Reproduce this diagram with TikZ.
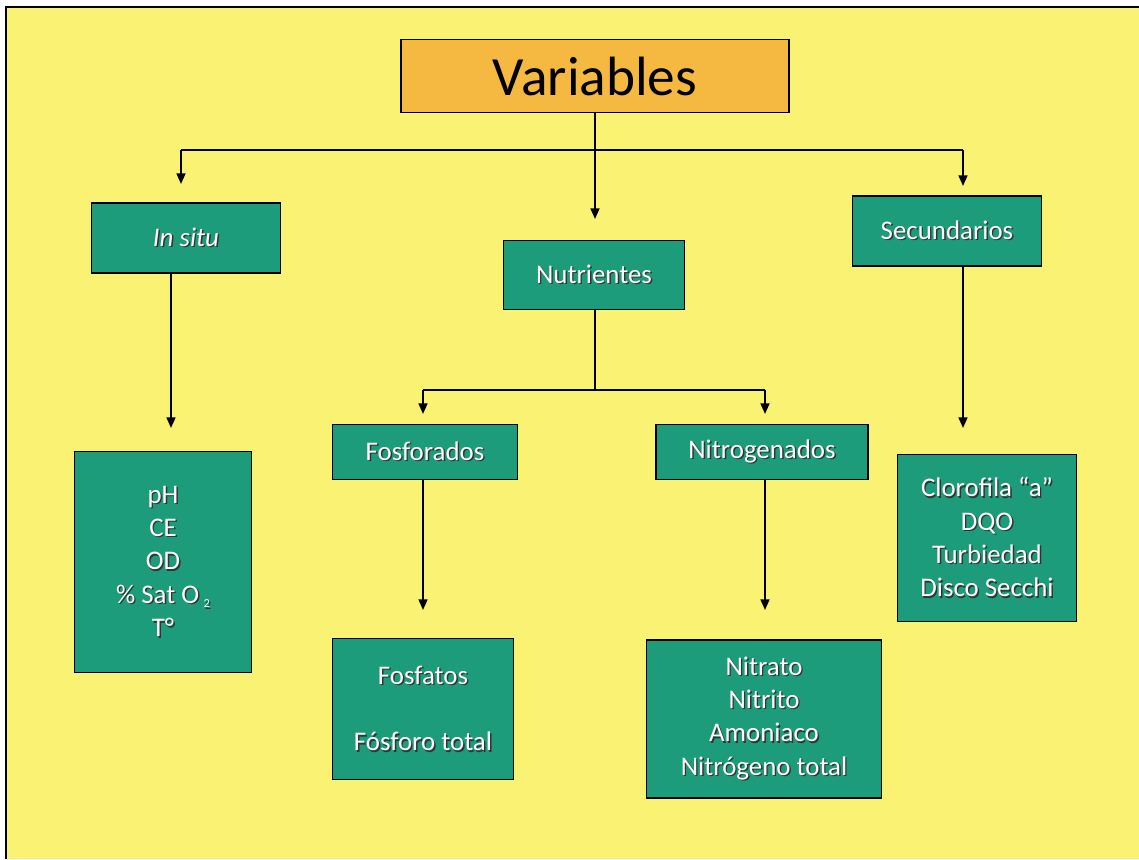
\documentclass[tikz,border=0pt]{standalone}
\usepackage{fontspec}
\setmainfont{Carlito}
\usetikzlibrary{arrows.meta}
\definecolor{fondo}{RGB}{250,242,115}
\definecolor{caja}{RGB}{28,156,122}
\definecolor{titulo}{RGB}{245,184,64}
\newcommand{\sh}[1]{\leavevmode\rlap{\kern0.8pt\raisebox{-0.8pt}{\color{black!80}#1}}#1}
\begin{document}
\begin{tikzpicture}[x=0.02cm,y=-0.02cm,
  caja/.style={draw=black,line width=1.1pt,fill=caja,text=white,align=center,font=\fontsize{15.3}{19}\selectfont,inner sep=0pt},
  linea/.style={line width=1.1pt},
  flecha/.style={line width=1.1pt,-{Triangle[length=6pt,width=5pt]}}]
\useasboundingbox (0,0) rectangle (1139,859);
\fill[fondo] (6,7) rectangle (1139,859);
\draw[line width=1.2pt] (6,859)--(6,7)--(1139,7);
\node[draw=black,line width=1.1pt,fill=titulo,minimum width=388*0.02cm,minimum height=73*0.02cm,font=\fontsize{31.5}{36}\selectfont] (var) at (595,76) {Variables};
\node[caja,minimum width=189*0.02cm,minimum height=70*0.02cm] (insitu) at (186,238) {\sh{\itshape In situ}};
\node[caja,minimum width=181*0.02cm,minimum height=69*0.02cm] (nutr) at (594,275) {\sh{Nutrientes}};
\node[caja,minimum width=189*0.02cm,minimum height=70*0.02cm] (secu) at (947,231) {\sh{Secundarios}};
\node[caja,minimum width=185*0.02cm,minimum height=55*0.02cm] (fosfo) at (425,452) {\sh{Fosforados}};
\node[caja,minimum width=212*0.02cm,minimum height=55*0.02cm] (nitro) at (762,452) {\sh{Nitrogenados}};
\node[caja,minimum width=177*0.02cm,minimum height=221*0.02cm] (ph) at (163,562) {\sh{pH}\\\sh{CE}\\\sh{OD}\\\sh{\% Sat O\,\raisebox{-0.35ex}{\scriptsize 2}}\\\sh{T°}};
\node[caja,minimum width=181*0.02cm,minimum height=141*0.02cm] (fosfatos) at (423,709) {\sh{Fosfatos}\\[19pt]\sh{Fósforo total}};
\node[caja,minimum width=235*0.02cm,minimum height=158*0.02cm] (nitrato) at (764,719) {\sh{Nitrato}\\\sh{Nitrito}\\\sh{Amoniaco}\\\sh{Nitrógeno total}};
\node[caja,minimum width=179*0.02cm,minimum height=167*0.02cm] (cloro) at (987,538) {\sh{Clorofila “a”}\\\sh{DQO}\\\sh{Turbiedad}\\\sh{Disco Secchi}};
\coordinate (h1) at (181,150);
\coordinate (h2) at (595,150);
\coordinate (h3) at (963,150);
\coordinate (h4) at (423,390);
\coordinate (h5) at (595,390);
\coordinate (h6) at (765,390);
\draw[linea] (var.south) -- (h2);
\draw[linea] (h1) -- (h3);
\draw[flecha] (h1) -- (181,184);
\draw[flecha] (h2) -- (595,219);
\draw[flecha] (h3) -- (963,186);
\draw[flecha] (insitu.south -| 171,0) -- (171,428);
\draw[flecha] (secu.south -| 963,0) -- (963,428);
\draw[linea] (nutr.south -| h5) -- (h5);
\draw[linea] (h4) -- (h6);
\draw[flecha] (h4) -- (423,414);
\draw[flecha] (h6) -- (765,414);
\draw[flecha] (fosfo.south -| h4) -- (423,610);
\draw[flecha] (nitro.south -| h6) -- (765,610);
\end{tikzpicture}
\end{document}
